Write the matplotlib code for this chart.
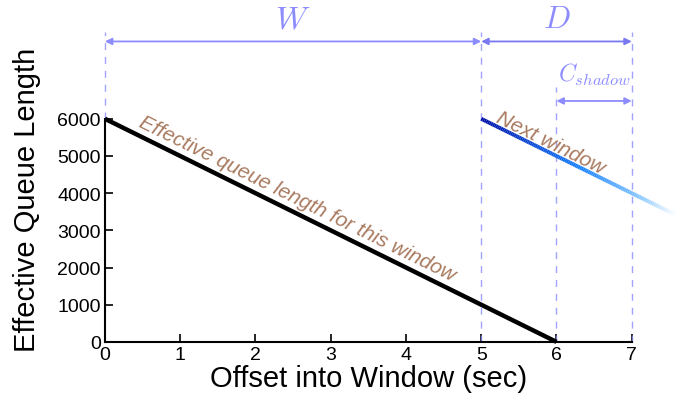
"""Effective queue length over a window, with the next window overlapping."""

import matplotlib

matplotlib.use("Agg")
import matplotlib.pyplot as plt
import numpy as np
from matplotlib.collections import LineCollection
from matplotlib.colors import LinearSegmentedColormap

plt.rcParams["font.family"] = ["Liberation Sans", "DejaVu Sans"]
plt.rcParams["mathtext.fontset"] = "cm"

# this window: queue drains from 6000 to 0 over 6 seconds
this_x = [0, 6]
this_y = [6000, 0]
# next window starts at 5 sec, same drain rate, drawn until it fades out
next_x = [5, 7.6]
next_y = [6000, 3400]

window_start, window_end, deadline, shadow_start = 0, 5, 7, 6
x_ticks = [0, 1, 2, 3, 4, 5, 6, 7]
y_ticks = [0, 1000, 2000, 3000, 4000, 5000, 6000]

guide = "#8c8cff"
note = "#a87a60"

fig = plt.figure(figsize=(6.95, 4.02), dpi=100)
ax = fig.add_axes([0.151, 0.147, 0.758, 0.555])
ax.set_xlim(0, 7)
ax.set_ylim(0, 6000)

ax.plot(this_x, this_y, color="black", lw=3.2, solid_capstyle="butt", clip_on=False, zorder=5)

# next window line with a dark blue -> light blue -> white fade
xs = np.linspace(next_x[0], next_x[1], 120)
ys = np.interp(xs, next_x, next_y)
pts = np.array([xs, ys]).T.reshape(-1, 1, 2)
segs = np.concatenate([pts[:-1], pts[1:]], axis=1)
cmap = LinearSegmentedColormap.from_list(
    "fade", [(0, "#0010a8"), (0.5, "#1480ff"), (0.8, "#80c4ff"), (1, "#ffffff")]
)
lc = LineCollection(segs, cmap=cmap, linewidths=2.8, clip_on=False, zorder=5)
lc.set_array(np.linspace(0, 1, len(segs)))
ax.add_collection(lc)

# dashed guides
dash = dict(color=guide, lw=1, ls=(0, (5, 5)), clip_on=False, alpha=0.8)
ax.plot([window_start, window_start], [6000, 8330], **dash)
ax.plot([window_end, window_end], [0, 8330], **dash)
ax.plot([shadow_start, shadow_start], [0, 6850], **dash)
ax.plot([deadline, deadline], [0, 8330], **dash)

arrow = dict(arrowstyle="<|-|>", color=guide, lw=1.3, mutation_scale=10, shrinkA=0, shrinkB=0)
ax.annotate("", xy=(window_start, 8080), xytext=(window_end, 8080),
            arrowprops=arrow, annotation_clip=False)
ax.annotate("", xy=(window_end, 8080), xytext=(deadline, 8080),
            arrowprops=dict(arrow, color="#7878f0"), annotation_clip=False)
ax.annotate("", xy=(shadow_start, 6480), xytext=(deadline, 6480),
            arrowprops=arrow, annotation_clip=False)
ax.text(2.5, 8680, "$W$", color=guide, fontsize=23, ha="center", va="center")
ax.text(6.0, 8680, "$D$", color=guide, fontsize=23, ha="center", va="center")
ax.text(6.5, 7200, "$C_{shadow}$", color=guide, fontsize=17, ha="center", va="center")

angle = -np.degrees(np.arctan((6000 / 6) * (ax.bbox.height / 6000) / (ax.bbox.width / 7)))
ax.text(2.55, 3870, "Effective queue length for this window", color=note, fontsize=15,
        style="italic", rotation=angle, ha="center", va="center", rotation_mode="anchor")
ax.text(5.92, 5380, "Next window", color=note, fontsize=15,
        style="italic", rotation=angle, ha="center", va="center", rotation_mode="anchor")

ax.spines["top"].set_visible(False)
ax.spines["right"].set_visible(False)
ax.spines["left"].set_linewidth(1.5)
ax.spines["bottom"].set_linewidth(1.5)
ax.set_xticks(x_ticks)
ax.set_yticks(y_ticks)
ax.tick_params(direction="in", length=6, width=1.2, labelsize=14, pad=3)
ax.set_xlabel("Offset into Window (sec)", fontsize=21, labelpad=1)
ax.set_ylabel("Effective Queue Length", fontsize=21)
ax.yaxis.set_label_coords(-0.122, 0.64)

fig.savefig("out.png", dpi=100)
